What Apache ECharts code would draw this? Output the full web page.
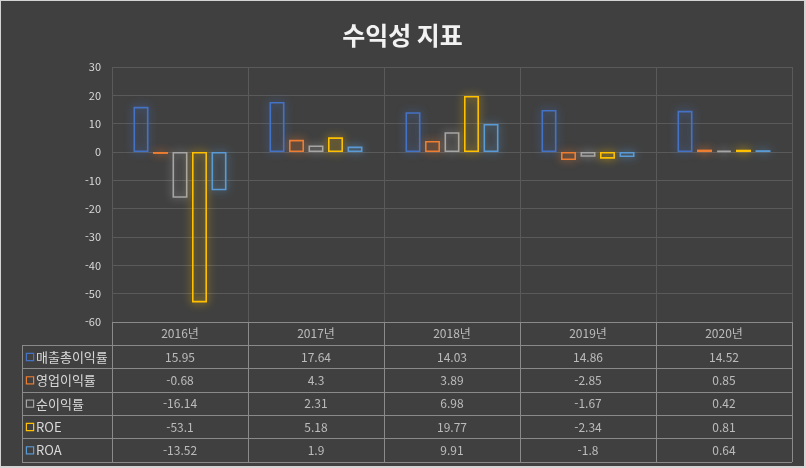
<!DOCTYPE html>
<html lang="ko">
<head>
<meta charset="UTF-8">
<title>수익성 지표</title>
<script src="https://cdn.jsdelivr.net/npm/echarts@6/dist/echarts.min.js"></script>
<style>
  html, body { margin: 0; padding: 0; background: #d4d4d4; }
  #chart { position: absolute; left: 1px; top: 1px; width: 803px; height: 465px; }
</style>
</head>
<body>
<div id="chart"></div>
<script type="text/javascript">
    // 데이터
    var years = ['2016년', '2017년', '2018년', '2019년', '2020년'];
    var names = ['매출총이익률', '영업이익률', '순이익률', 'ROE', 'ROA'];
    var grossMargin = [15.95, 17.64, 14.03, 14.86, 14.52];
    var opMargin = [-0.68, 4.3, 3.89, -2.85, 0.85];
    var netMargin = [-16.14, 2.31, 6.98, -1.67, 0.42];
    var roe = [-53.1, 5.18, 19.77, -2.34, 0.81];
    var roa = [-13.52, 1.9, 9.91, -1.8, 0.64];
    var yTicks = [-60, -50, -40, -30, -20, -10, 0, 10, 20, 30];

    var seriesData = [grossMargin, opMargin, netMargin, roe, roa];
    var colors = ['#4472c4', '#ed7d31', '#a5a5a5', '#ffc000', '#5b9bd5'];
    var textColor = '#d9d9d9';
    var tableLine = '#8a8a8a';
    var font = '"Noto Sans CJK KR", "Noto Sans", sans-serif';

    var series = [];
    // 막대 (테두리만, 글로우)
    for (var i = 0; i < names.length; i++) {
        series.push({
            name: names[i],
            type: 'bar',
            xAxisIndex: 0,
            yAxisIndex: 0,
            barWidth: 15,
            barGap: '30%',
            itemStyle: {
                color: 'rgba(0,0,0,0)',
                borderColor: colors[i],
                borderWidth: 1.6,
                shadowBlur: 9,
                shadowColor: colors[i]
            },
            data: seriesData[i]
        });
    }

    // 표 내용 (헤더 + 값)
    var cells = [];
    for (var c = 0; c < years.length; c++) {
        cells.push([c, 0, years[c]]);
        for (var r = 0; r < names.length; r++) {
            cells.push([c, r + 1, String(seriesData[r][c])]);
        }
    }
    series.push({
        type: 'scatter',
        xAxisIndex: 1,
        yAxisIndex: 1,
        symbolSize: 0,
        silent: true,
        label: {
            show: true,
            position: 'inside',
            color: textColor,
            fontSize: 12,
            fontFamily: font,
            formatter: function (p) { return p.value[2]; }
        },
        data: cells
    });

    var rich = { t: { color: textColor, fontSize: 13, fontFamily: font, padding: [0, 0, 0, 3] } };
    for (var k = 0; k < names.length; k++) {
        rich['s' + k] = { width: 6, height: 6, borderColor: colors[k], borderWidth: 1.2, backgroundColor: '#404040' };
    }

    var option = {
        backgroundColor: '#404040',
        animation: false,
        title: {
            text: '수익성 지표',
            left: 'center',
            top: 17,
            textStyle: { color: '#f2f2f2', fontSize: 25, fontWeight: 'bold', fontFamily: font }
        },
        grid: [
            { left: 111, right: 12, top: 66, bottom: 144 },
            { left: 111, right: 12, top: 321, bottom: 4 },
            { left: 21, right: 692, top: 321 + 140 / 6, bottom: 4 }
        ],
        xAxis: [
            {
                type: 'category', gridIndex: 0, data: years,
                axisLine: { show: false }, axisTick: { show: false }, axisLabel: { show: false },
                splitLine: { show: true, lineStyle: { color: '#5a5a5a', width: 1 } }
            },
            {
                type: 'category', gridIndex: 1, data: years,
                axisLine: { show: false }, axisTick: { show: false }, axisLabel: { show: false },
                splitLine: { show: true, lineStyle: { color: tableLine, width: 1 } }
            },
            {
                type: 'category', gridIndex: 2, data: [''],
                axisLine: { show: false }, axisTick: { show: false }, axisLabel: { show: false },
                splitLine: { show: true, lineStyle: { color: tableLine, width: 1 } }
            }
        ],
        yAxis: [
            {
                type: 'value', gridIndex: 0, min: yTicks[0], max: yTicks[yTicks.length - 1], interval: 10,
                axisLine: { show: false }, axisTick: { show: false },
                axisLabel: { color: textColor, fontSize: 11, fontFamily: font, margin: 11 },
                splitLine: { lineStyle: { color: '#5a5a5a', width: 1 } }
            },
            {
                type: 'category', gridIndex: 1, inverse: true, data: [''].concat(names),
                axisLine: { show: false }, axisTick: { show: false }, axisLabel: { show: false },
                splitLine: { show: true, lineStyle: { color: tableLine, width: 1 } }
            },
            {
                type: 'category', gridIndex: 2, inverse: true, data: names,
                axisLine: { show: false }, axisTick: { show: false },
                axisLabel: {
                    inside: true, margin: 5, align: 'left',
                    formatter: function (v, idx) { return '{s' + idx + '|}{t|' + v + '}'; },
                    rich: rich
                },
                splitLine: { show: true, lineStyle: { color: tableLine, width: 1 } }
            }
        ],
        series: series
    };

    var chart = echarts.init(document.getElementById('chart'));
    chart.setOption(option);
</script>
</body>
</html>
